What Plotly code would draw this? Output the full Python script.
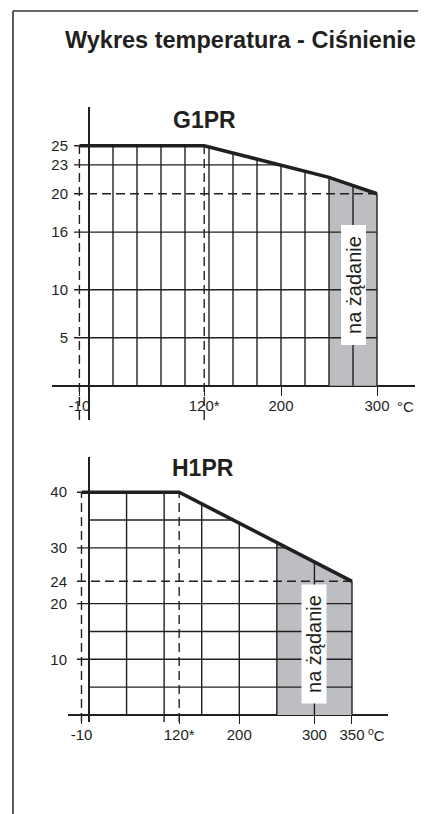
import numpy as np
import plotly.graph_objects as go

# ---------------- data ----------------
TITLE = "Wykres temperatura - Ciśnienie"
ON_REQUEST_TEXT = "na żądanie"

G1_NAME = "G1PR"
G1_TEMP = [-10, 120, 250, 300]
G1_PRESS = [25, 25, 21.7, 20]
G1_ON_REQUEST = [250, 300]
G1_XTICK_VALS = [-10, 120, 200, 300]
G1_XTICK_TEXT = ["-10", "120*", "200", "300"]
G1_YTICK_VALS = [5, 10, 16, 20, 23, 25]
G1_GRID_X = [25, 50, 75, 100, 125, 150, 175, 200, 225, 250, 275, 300]
G1_GRID_X_TICKED = []
G1_GRID_Y_LABELED = [5, 10, 16, 23, 25]
G1_GRID_Y_PLAIN = []
G1_REF_TEMP = [-10, 120]
G1_REF_PRESS = 20
G1_UNIT = "°C"

H1_NAME = "H1PR"
H1_TEMP = [-10, 120, 350]
H1_PRESS = [40, 40, 24]
H1_ON_REQUEST = [250, 350]
H1_XTICK_VALS = [-10, 120, 200, 300, 350]
H1_XTICK_TEXT = ["-10", "120*", "200", "300", "350"]
H1_YTICK_VALS = [10, 20, 24, 30, 40]
H1_GRID_X = [50, 100, 150, 200, 250, 300, 350]
H1_GRID_X_TICKED = [100]
H1_GRID_Y_LABELED = [10, 20, 30, 40]
H1_GRID_Y_PLAIN = [5, 15, 35]
H1_REF_TEMP = [-10, 120]
H1_REF_PRESS = 24
H1_UNIT = "<sup>o</sup>C"

INK = "#231f20"
GRAY = "#bdbec2"
FONT = "Liberation Sans, Arial, sans-serif"
OFF = 8                      # page body margin
W, H = 426 - OFF, 814 - OFF  # figure size

fig = go.Figure()


def X(px):
    return (px - OFF) / W


def Y(py):
    return 1 - (py - OFF) / H


def panel(ax, temp, press, on_req, xt_vals, xt_text, yt_vals, grid_x, grid_x_ticked,
          grid_y_lab, grid_y_plain, ref_temp, ref_press, name, unit,
          px0, pxs, py0, pys, xdom_px, ydom_px, yaxis_px, tick_start, ticklen,
          xlab_shift, ylab_standoff, label_y, name_xy, box_xy, box_len, unit_px):
    xa = "x" if ax == 1 else "x%d" % ax
    ya = "y" if ax == 1 else "y%d" % ax
    temp = np.array(temp, float)
    press = np.array(press, float)

    def curve(x):
        return float(np.interp(x, temp, press))

    def reach(v):
        if v >= press.max():
            return temp[-1] if press.min() >= v else temp[0]
        return float(np.interp(v, press[::-1], temp[::-1]))

    # shaded "on request" region
    mid = [(t, p) for t, p in zip(temp, press) if on_req[0] < t < on_req[1]]
    xs = [on_req[0], on_req[0]] + [t for t, _ in mid] + [on_req[1], on_req[1]]
    ys = [0, curve(on_req[0])] + [p for _, p in mid] + [curve(on_req[1]), 0]
    fig.add_trace(go.Scatter(x=xs, y=ys, xaxis=xa, yaxis=ya, fill="toself", fillcolor=GRAY,
                             mode="lines", line=dict(width=0), hoverinfo="skip", showlegend=False))

    # grid
    gx, gy = [], []
    for g in grid_x:
        gx += [g, g, None]
        gy += [-ticklen / pys if g in grid_x_ticked else 0, curve(g), None]
    for v in grid_y_lab:
        gx += [tick_start, reach(v), None]
        gy += [v, v, None]
    for v in grid_y_plain:
        gx += [0, reach(v), None]
        gy += [v, v, None]
    fig.add_trace(go.Scatter(x=gx, y=gy, xaxis=xa, yaxis=ya, mode="lines",
                             line=dict(color=INK, width=1.4), hoverinfo="skip", showlegend=False))

    # dashed reference lines
    dx, dy = [], []
    ymin = (py0 - ydom_px[1]) / pys
    for t in ref_temp:
        dx += [t, t, None]
        dy += [ymin, curve(t), None]
    dx += [tick_start, temp[-1], None]
    dy += [ref_press, ref_press, None]
    fig.add_trace(go.Scatter(x=dx, y=dy, xaxis=xa, yaxis=ya, mode="lines",
                             line=dict(color=INK, width=1.4, dash="9px,5px"),
                             hoverinfo="skip", showlegend=False))

    # boundary curve
    fig.add_trace(go.Scatter(x=temp, y=press, xaxis=xa, yaxis=ya, mode="lines",
                             line=dict(color=INK, width=3.6), hoverinfo="skip", showlegend=False))

    xr = [(xdom_px[0] - px0) / pxs, (xdom_px[1] - px0) / pxs]
    yr = [(py0 - ydom_px[1]) / pys, (py0 - ydom_px[0]) / pys]
    xkey = "xaxis" if ax == 1 else "xaxis%d" % ax
    ykey = "yaxis" if ax == 1 else "yaxis%d" % ax
    fig.update_layout(**{
        xkey: dict(domain=[X(xdom_px[0]), X(xdom_px[1])], range=xr, anchor="free",
                   position=Y(py0), showgrid=False, showline=False,
                   zeroline=True, zerolinecolor=INK, zerolinewidth=2.2,
                   tickmode="array", tickvals=xt_vals, ticktext=xt_text,
                   ticks="outside", ticklen=ticklen, tickwidth=1.4, tickcolor=INK,
                   ticklabelstandoff=xlab_shift,
                   tickfont=dict(family=FONT, size=15, color=INK), fixedrange=True),
        ykey: dict(domain=[Y(ydom_px[1]), Y(ydom_px[0])], range=yr, anchor="free",
                   position=X(yaxis_px), showgrid=False, showline=False,
                   zeroline=True, zerolinecolor=INK, zerolinewidth=2.2,
                   tickmode="array", tickvals=yt_vals, ticks="",
                   ticklabelstandoff=ylab_standoff,
                   tickfont=dict(family=FONT, size=15, color=INK), fixedrange=True),
    })

    fig.add_annotation(x=X(name_xy[0]), y=Y(name_xy[1]), xref="paper", yref="paper",
                       xanchor="center", yanchor="middle",
                       text="<b>%s</b>" % name, showarrow=False,
                       font=dict(family=FONT, size=23, color=INK))
    fig.add_annotation(x=(unit_px - px0) / pxs, y=Y(label_y), xref=xa, yref="paper",
                       text=unit, showarrow=False, xanchor="left", yanchor="middle",
                       font=dict(family=FONT, size=15, color=INK))
    fig.add_annotation(x=(box_xy[0] - px0) / pxs, y=(py0 - box_xy[1]) / pys, xref=xa, yref=ya,
                       text=ON_REQUEST_TEXT, textangle=-90, showarrow=False,
                       xanchor="center", yanchor="middle",
                       bgcolor="white", borderpad=0, width=box_len, height=24,
                       font=dict(family=FONT, size=20, color=INK))


panel(1, G1_TEMP, G1_PRESS, G1_ON_REQUEST, G1_XTICK_VALS, G1_XTICK_TEXT, G1_YTICK_VALS,
      G1_GRID_X, G1_GRID_X_TICKED, G1_GRID_Y_LABELED, G1_GRID_Y_PLAIN, G1_REF_TEMP,
      G1_REF_PRESS, G1_NAME, G1_UNIT,
      px0=89, pxs=0.96, py0=385.7, pys=9.6, xdom_px=(52, 415.4), ydom_px=(107, 420),
      yaxis_px=74, tick_start=-15.6, ticklen=9, xlab_shift=-3, ylab_standoff=6,
      label_y=406, name_xy=(204, 120), box_xy=(353, 285.5), box_len=119, unit_px=395)

panel(2, H1_TEMP, H1_PRESS, H1_ON_REQUEST, H1_XTICK_VALS, H1_XTICK_TEXT, H1_YTICK_VALS,
      H1_GRID_X, H1_GRID_X_TICKED, H1_GRID_Y_LABELED, H1_GRID_Y_PLAIN, H1_REF_TEMP,
      H1_REF_PRESS, H1_NAME, H1_UNIT,
      px0=89, pxs=0.7514, py0=715, pys=5.57, xdom_px=(68, 388), ydom_px=(456.7, 722),
      yaxis_px=77, tick_start=-16, ticklen=8, xlab_shift=-2, ylab_standoff=10,
      label_y=734, name_xy=(203, 468), box_xy=(313.5, 644.5), box_len=118, unit_px=366)

# title and frame
fig.add_annotation(x=X(240), y=Y(40), xref="paper", yref="paper",
                   xanchor="center", yanchor="middle",
                   text="<b>%s</b>" % TITLE, showarrow=False,
                   font=dict(family=FONT, size=23.5, color=INK))
fig.add_shape(type="line", xref="paper", yref="paper", x0=X(13), x1=X(13), y0=0, y1=Y(11),
              line=dict(color="#333333", width=1.6))
fig.add_shape(type="line", xref="paper", yref="paper", x0=X(13), x1=1, y0=Y(11), y1=Y(11),
              line=dict(color="#333333", width=1.6))

fig.update_layout(width=W, height=H, margin=dict(l=0, r=0, t=0, b=0),
                  paper_bgcolor="white", plot_bgcolor="rgba(0,0,0,0)", showlegend=False)

fig.write_html("out.html")
